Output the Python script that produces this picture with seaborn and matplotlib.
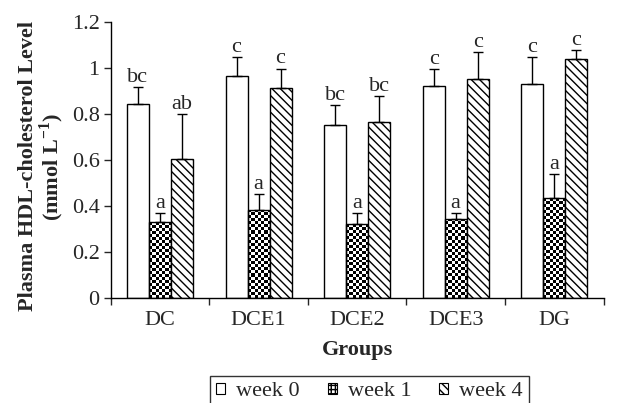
import matplotlib
matplotlib.use("Agg")
import matplotlib.pyplot as plt
import seaborn as sns
import pandas as pd
import numpy as np
from matplotlib.ticker import FormatStrFormatter, FixedLocator
from matplotlib.patches import Patch

groups = ["DC", "DCE1", "DCE2", "DCE3", "DG"]
weeks = ["week 0", "week 1", "week 4"]
week0 = [0.843, 0.965, 0.751, 0.922, 0.930]
week1 = [0.329, 0.383, 0.320, 0.343, 0.433]
week4 = [0.603, 0.910, 0.762, 0.949, 1.038]
sd0 = [0.074, 0.080, 0.088, 0.071, 0.115]
sd1 = [0.040, 0.068, 0.048, 0.025, 0.106]
sd4 = [0.197, 0.086, 0.116, 0.118, 0.037]
let0 = ["bc", "c", "bc", "c", "c"]
let1 = ["a", "a", "a", "a", "a"]
let4 = ["ab", "c", "bc", "c", "c"]

sns.set_style("ticks")
plt.rcParams["font.family"] = ["Liberation Serif", "DejaVu Serif"]
plt.rcParams["hatch.linewidth"] = 1.0
plt.rcParams["mathtext.fontset"] = "custom"
plt.rcParams["mathtext.rm"] = "Liberation Serif"
plt.rcParams["mathtext.bf"] = "Liberation Serif:bold"

FS = 16

df = pd.DataFrame({
    "Group": groups * 3,
    "Week": [weeks[0]] * 5 + [weeks[1]] * 5 + [weeks[2]] * 5,
    "Value": week0 + week1 + week4,
})

fig = plt.figure(figsize=(6.23, 4.03), dpi=100)
ax = fig.add_axes([0.1777, 0.2605, 0.791, 0.686])

sns.barplot(data=df, x="Group", y="Value", hue="Week", order=groups, hue_order=weeks,
            palette=["white", "white", "white"], edgecolor="black", linewidth=1.0,
            width=0.67, errorbar=None, legend=False, ax=ax)

ax.set_ylim(0, 1.2)
ax.set_xlim(-0.5, 4.5)

hatches = ["", "", "\\\\\\\\"]
sds = [sd0, sd1, sd4]
lets = [let0, let1, let4]
bar_conts = list(ax.containers)
cell = 3.0  # checker cell size in pixels
for ci, cont in enumerate(bar_conts):
    xs, ys = [], []
    for bar in cont.patches:
        bar.set_hatch(hatches[ci])
        bar.set_edgecolor("black")
        x0 = bar.get_x(); w = bar.get_width(); h = bar.get_height()
        xs.append(x0 + w / 2)
        ys.append(h)
        if ci == 1:
            p0 = ax.transData.transform((x0, 0))
            p1 = ax.transData.transform((x0 + w, h))
            nx = max(1, int(round(abs(p1[0] - p0[0]) / cell)))
            ny = max(1, int(round(abs(p1[1] - p0[1]) / cell)))
            ii, jj = np.indices((ny, nx))
            checker = ((ii + jj) % 2).astype(float)
            bar.set_facecolor("none")
            im = ax.imshow(checker, cmap="gray", vmin=0, vmax=1, extent=[x0, x0 + w, 0, h],
                           aspect="auto", interpolation="nearest", origin="lower",
                           zorder=bar.get_zorder() - 0.01)
            im.set_clip_path(bar)
    xs = np.array(xs); ys = np.array(ys); e = np.array(sds[ci])
    ax.errorbar(xs, ys, yerr=[np.zeros_like(e), e], fmt="none", ecolor="black",
                elinewidth=1.0, capsize=3.5, capthick=1.0)
    for x, y, s, t in zip(xs, ys, e, lets[ci]):
        ax.text(x, y + s + 0.022, t, ha="center", va="baseline", fontsize=FS)

ax.set_ylim(0, 1.2)
ax.set_xlim(-0.5, 4.5)
ax.set_yticks([0, 0.2, 0.4, 0.6, 0.8, 1.0, 1.2])
ax.yaxis.set_major_formatter(FormatStrFormatter("%g"))
ax.xaxis.set_minor_locator(FixedLocator(np.arange(-0.5, 5, 1.0)))
ax.tick_params(axis="x", which="major", length=0, labelsize=FS, pad=9)
ax.tick_params(axis="x", which="minor", length=5, width=1, direction="out")
ax.tick_params(axis="y", length=5, width=1, direction="out", labelsize=FS, pad=3)
for sp in ["top", "right"]:
    ax.spines[sp].set_visible(False)
for sp in ["left", "bottom"]:
    ax.spines[sp].set_color("black")
    ax.spines[sp].set_linewidth(1.0)

ax.set_xlabel("Groups", fontsize=FS, fontweight="bold")
ax.xaxis.set_label_coords(0.5, -0.153)
ax.set_ylabel("Plasma HDL-cholesterol Level\n(mmol L$^{\\mathbf{-1}}$)", fontsize=FS,
              fontweight="bold", linespacing=1.0)
ax.yaxis.set_label_coords(-0.09, 0.476)

handles = [Patch(facecolor="white", edgecolor="black", hatch=h, linewidth=0.8)
           for h in ["", "++++", "\\\\\\\\"]]
leg = fig.legend(handles, weeks, loc="center", bbox_to_anchor=(0.593, 0.028), ncol=3,
                 frameon=True, fancybox=False, edgecolor="black", fontsize=FS,
                 handlelength=0.4, handleheight=0.4, handletextpad=0.5, columnspacing=1.25,
                 borderpad=0.3, borderaxespad=0)
leg.get_frame().set_linewidth(1.0)

fig.savefig("out.png", dpi=100)
